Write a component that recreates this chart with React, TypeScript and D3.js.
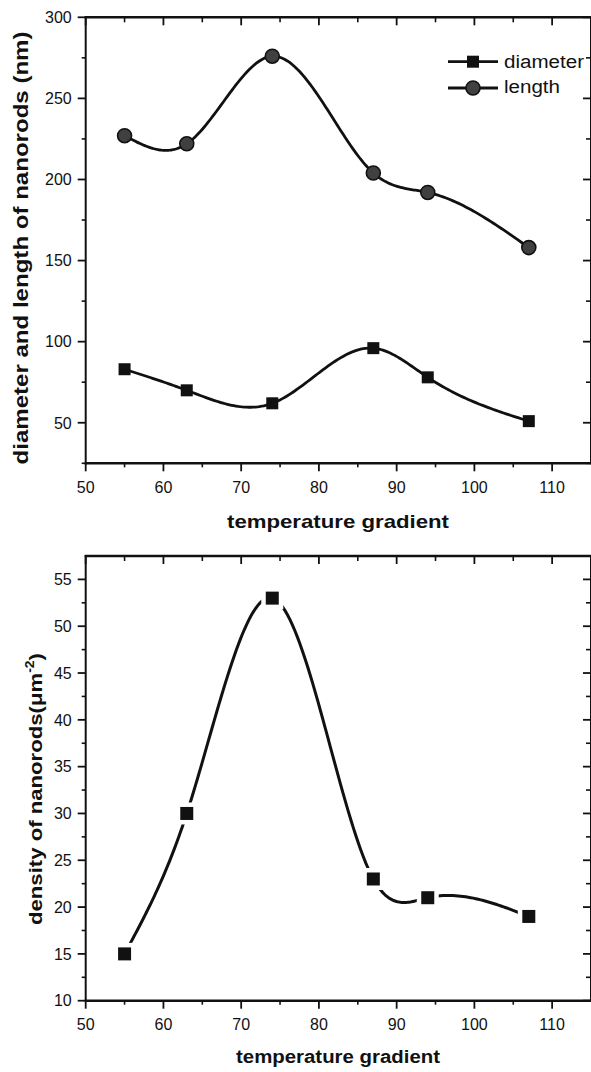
import React from "react";
import * as d3 from "d3";

// ---- data ----
const temps = [55, 63, 74, 87, 94, 107];
const diameter = [83, 70, 62, 96, 78, 51];
const lengthVals = [227, 222, 276, 204, 192, 158];
const density = [15, 30, 53, 23, 21, 19];

const xTicks = [50, 60, 70, 80, 90, 100, 110];
const xMinor = [55, 65, 75, 85, 95, 105, 115];
const y1Ticks = [50, 100, 150, 200, 250, 300];
const y1Minor = [25, 75, 125, 175, 225, 275];
const y2Ticks = [10, 15, 20, 25, 30, 35, 40, 45, 50, 55];
const y2Minor = [12.5, 17.5, 22.5, 27.5, 32.5, 37.5, 42.5, 47.5, 52.5, 57.5];

const W = 591;
const H = 1072;
const FONT = "'Liberation Sans', Arial, Helvetica, sans-serif";

const x = d3.scaleLinear().domain([50, 115]).range([85.7, 591]);

// natural cubic spline y(x) used to trace the smooth connecting line (as the plotting program does)
function splineCurve(xs: number[], ys: number[]): [number, number][] {
  const n = xs.length;
  const h = d3.range(n - 1).map((i) => xs[i + 1] - xs[i]);
  const M = new Array(n).fill(0);
  const a: number[] = [], b: number[] = [], c: number[] = [], r: number[] = [];
  for (let i = 1; i < n - 1; i++) {
    a.push(h[i - 1]);
    b.push(2 * (h[i - 1] + h[i]));
    c.push(h[i]);
    r.push(6 * ((ys[i + 1] - ys[i]) / h[i] - (ys[i] - ys[i - 1]) / h[i - 1]));
  }
  const m = b.length;
  for (let i = 1; i < m; i++) {
    const w = a[i] / b[i - 1];
    b[i] -= w * c[i - 1];
    r[i] -= w * r[i - 1];
  }
  const sol = new Array(m).fill(0);
  for (let i = m - 1; i >= 0; i--) {
    sol[i] = (r[i] - (i < m - 1 ? c[i] * sol[i + 1] : 0)) / b[i];
  }
  for (let i = 0; i < m; i++) M[i + 1] = sol[i];
  const pts: [number, number][] = [];
  for (let i = 0; i < n - 1; i++) {
    const hi = h[i];
    const steps = 40;
    for (let s = 0; s <= steps; s++) {
      if (i > 0 && s === 0) continue;
      const xv = xs[i] + (hi * s) / steps;
      const A = xs[i + 1] - xv;
      const B = xv - xs[i];
      const yv =
        (M[i] * A * A * A) / (6 * hi) +
        (M[i + 1] * B * B * B) / (6 * hi) +
        (ys[i] / hi - (M[i] * hi) / 6) * A +
        (ys[i + 1] / hi - (M[i + 1] * hi) / 6) * B;
      pts.push([xv, yv]);
    }
  }
  return pts;
}

type AxesProps = {
  y: d3.ScaleLinear<number, number>;
  yTicks: number[];
  yMinor: number[];
  labelY: number;
};

function Axes({ y, yTicks, yMinor, labelY }: AxesProps) {
  const [x0, x1] = x.range();
  const [yb, yt] = y.range();
  const sw = 2;
  const col = "#111";
  const els: React.ReactNode[] = [];
  els.push(<line key="l" x1={x0} x2={x0} y1={yt - 1} y2={yb + 1} stroke={col} strokeWidth={sw} />);
  els.push(<line key="r" x1={x1} x2={x1} y1={yt - 1} y2={yb + 1} stroke={col} strokeWidth={sw} />);
  els.push(<line key="t" x1={x0 - 1} x2={x1} y1={yt} y2={yt} stroke={col} strokeWidth={sw + 0.5} />);
  els.push(<line key="b" x1={x0 - 1} x2={x1} y1={yb} y2={yb} stroke={col} strokeWidth={sw + 0.5} />);
  xTicks.forEach((t) => {
    const px = x(t);
    els.push(<line key={"xb" + t} x1={px} x2={px} y1={yb} y2={yb + 8} stroke={col} strokeWidth={1.8} />);
    els.push(<line key={"xt" + t} x1={px} x2={px} y1={yt} y2={yt + 8} stroke={col} strokeWidth={1.8} />);
    els.push(
      <text key={"xl" + t} x={px} y={labelY} textAnchor="middle" fontSize={16} fontFamily={FONT} fill="#111">
        {t}
      </text>
    );
  });
  xMinor.forEach((t) => {
    const px = x(t);
    if (px > x1 - 1) return;
    els.push(<line key={"xbm" + t} x1={px} x2={px} y1={yb} y2={yb + 4} stroke={col} strokeWidth={1.6} />);
    els.push(<line key={"xtm" + t} x1={px} x2={px} y1={yt} y2={yt + 5} stroke={col} strokeWidth={1.6} />);
  });
  yTicks.forEach((t) => {
    const py = y(t);
    els.push(<line key={"yl" + t} x1={x0 - 8} x2={x0} y1={py} y2={py} stroke={col} strokeWidth={1.8} />);
    els.push(<line key={"yr" + t} x1={x1 - 8} x2={x1} y1={py} y2={py} stroke={col} strokeWidth={1.8} />);
    els.push(
      <text key={"ylab" + t} x={x0 - 14} y={py} dy="0.36em" textAnchor="end" fontSize={16} fontFamily={FONT} fill="#111">
        {t}
      </text>
    );
  });
  yMinor.forEach((t) => {
    const py = y(t);
    if (py < yt + 1) return;
    els.push(<line key={"ylm" + t} x1={x0 - 4} x2={x0} y1={py} y2={py} stroke={col} strokeWidth={1.6} />);
    els.push(<line key={"yrm" + t} x1={x1 - 5} x2={x1} y1={py} y2={py} stroke={col} strokeWidth={1.6} />);
  });
  return <g>{els}</g>;
}

export default function App() {
  const y1 = d3.scaleLinear().domain([25, 300]).range([463.3, 17.3]);
  const y2 = d3.scaleLinear().domain([10, 57.5]).range([1000.7, 556]);

  const line1 = d3
    .line<[number, number]>()
    .x((d) => x(d[0]))
    .y((d) => y1(d[1]));
  const line2 = d3
    .line<[number, number]>()
    .x((d) => x(d[0]))
    .y((d) => y2(d[1]));

  const sq = 12;

  return (
    <svg
      width={W}
      height={H}
      viewBox={`0 0 ${W} ${H}`}
      style={{ position: "absolute", left: 0, top: 0, background: "#fff" }}
    >
      <rect x={0} y={0} width={W} height={H} fill="#fff" />

      {/* ---------- Panel 1 ---------- */}
      <path d={line1(splineCurve(temps, lengthVals)) || ""} fill="none" stroke="#111" strokeWidth={2.8} />
      <path d={line1(splineCurve(temps, diameter)) || ""} fill="none" stroke="#111" strokeWidth={2.8} />
      {lengthVals.map((v, i) => (
        <circle key={"lc" + i} cx={x(temps[i])} cy={y1(v)} r={7} fill="#404040" stroke="#111" strokeWidth={1.6} />
      ))}
      {diameter.map((v, i) => (
        <rect key={"dr" + i} x={x(temps[i]) - sq / 2} y={y1(v) - sq / 2} width={sq} height={sq} fill="#111" />
      ))}
      <Axes y={y1} yTicks={y1Ticks} yMinor={y1Minor} labelY={493} />

      {/* legend */}
      <line x1={448} x2={498} y1={61.7} y2={61.7} stroke="#111" strokeWidth={2.8} />
      <rect x={473 - sq / 2} y={61.7 - sq / 2} width={sq} height={sq} fill="#111" />
      <text x={504} y={68} fontSize={18} fontFamily={FONT} fill="#111" textLength={80} lengthAdjust="spacingAndGlyphs">
        diameter
      </text>
      <line x1={448} x2={498} y1={88} y2={88} stroke="#111" strokeWidth={2.8} />
      <circle cx={473} cy={88} r={7} fill="#404040" stroke="#111" strokeWidth={1.6} />
      <text x={504} y={93} fontSize={18} fontFamily={FONT} fill="#111" textLength={56} lengthAdjust="spacingAndGlyphs">
        length
      </text>

      <text
        x={338}
        y={528}
        textAnchor="middle"
        fontSize={19}
        fontWeight="bold"
        fontFamily={FONT}
        fill="#111"
        textLength={222}
        lengthAdjust="spacingAndGlyphs"
      >
        temperature gradient
      </text>
      <text
        transform="translate(28,248) rotate(-90)"
        textAnchor="middle"
        fontSize={20}
        fontWeight="bold"
        fontFamily={FONT}
        fill="#111"
        textLength={433}
        lengthAdjust="spacingAndGlyphs"
      >
        diameter and length of nanorods (nm)
      </text>

      {/* ---------- Panel 2 ---------- */}
      <path d={line2(splineCurve(temps, density)) || ""} fill="none" stroke="#111" strokeWidth={3} />
      {density.map((v, i) => (
        <rect
          key={"halo" + i}
          x={x(temps[i]) - sq / 2 - 5}
          y={y2(v) - sq / 2 - 5}
          width={sq + 10}
          height={sq + 10}
          fill="#fff"
        />
      ))}
      {density.map((v, i) => (
        <rect key={"ds" + i} x={x(temps[i]) - sq / 2 - 0.5} y={y2(v) - sq / 2 - 0.5} width={sq + 1} height={sq + 1} fill="#111" />
      ))}
      <Axes y={y2} yTicks={y2Ticks} yMinor={y2Minor} labelY={1030} />

      <text
        x={338}
        y={1063}
        textAnchor="middle"
        fontSize={18}
        fontWeight="bold"
        fontFamily={FONT}
        fill="#111"
        textLength={204}
        lengthAdjust="spacingAndGlyphs"
      >
        temperature gradient
      </text>
      <text
        transform="translate(42,789) rotate(-90)"
        textAnchor="middle"
        fontSize={19}
        fontWeight="bold"
        fontFamily={FONT}
        fill="#111"
        textLength={272}
        lengthAdjust="spacingAndGlyphs"
      >
        density of nanorods(μm
        <tspan fontSize={12} dy={-8}>
          -2
        </tspan>
        <tspan dy={8}>)</tspan>
      </text>
    </svg>
  );
}
